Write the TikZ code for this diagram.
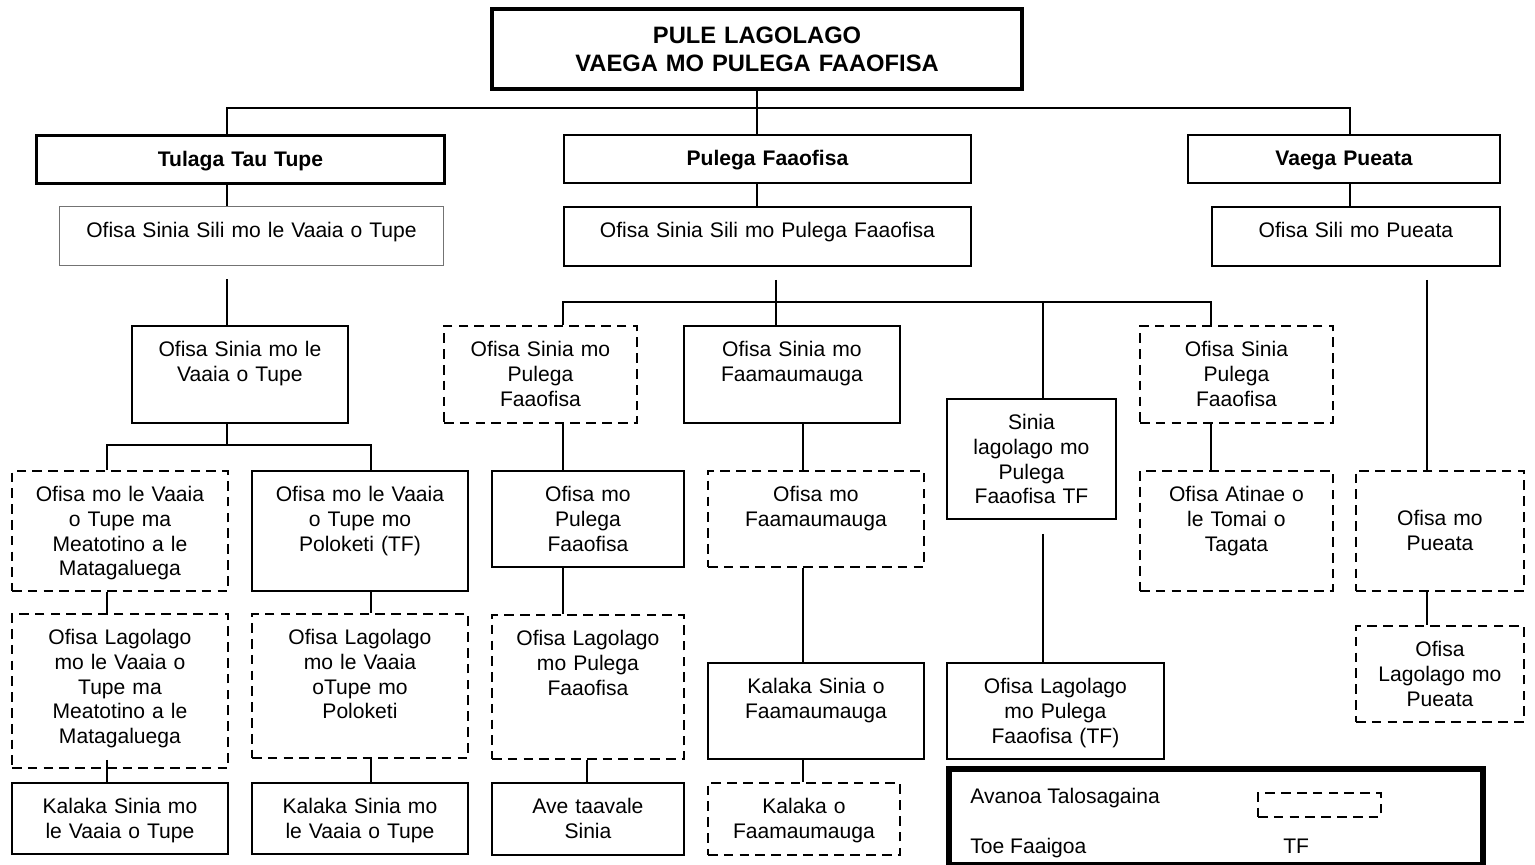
\documentclass[tikz,border=0pt]{standalone}
\usepackage{fontspec}
\setmainfont{Liberation Sans}
\begin{document}
\begin{tikzpicture}[x=0.02cm,y=-0.02cm,
    every node/.style={font=\fontsize{12}{14}\selectfont},
    orgbox/.style 2 args={draw,line width=1.1pt,anchor=north west,inner sep=0pt,align=center,text width=#1,text height=0.62cm,text depth=#2},
    dashbox/.style={dash pattern=on 5.5pt off 3.5pt},
    headbox/.style={line width=1.7pt,font=\fontsize{12}{14}\selectfont\bfseries},
    link/.style={line width=1.1pt}]
    \useasboundingbox (0,0) rectangle (1535,865);

    \node[orgbox={10.6cm}{0.91cm},line width=2.4pt,text height=0.69cm,font=\fontsize{13.5}{15.9}\selectfont\bfseries] (top) at (490,7) {PULE LAGOLAGO\\VAEGA MO PULEGA FAAOFISA};

    \node[orgbox={8.16cm}{0.34cm},headbox] (tt) at (35,134) {Tulaga Tau Tupe};
    \node[orgbox={8.14cm}{0.34cm},headbox,line width=1.1pt] (pf) at (563,134) {Pulega Faaofisa};
    \node[orgbox={6.24cm}{0.34cm},headbox,line width=1.1pt] (vp) at (1187,134) {Vaega Pueata};

    \node[orgbox={7.68cm}{0.56cm},draw=black!55,line width=0.6pt] (ts) at (59,206) {Ofisa Sinia Sili mo le Vaaia o Tupe};
    \node[orgbox={8.14cm}{0.56cm}] (ps) at (563,206) {Ofisa Sinia Sili mo Pulega Faaofisa};
    \node[orgbox={5.76cm}{0.56cm}] (vs) at (1211,206) {Ofisa Sili mo Pueata};

    \node[orgbox={4.32cm}{1.32cm}] (t1) at (131,325) {Ofisa Sinia mo le\\Vaaia o Tupe};
    \node[orgbox={4.32cm}{1.78cm},dashbox] (a1) at (11,470) {Ofisa mo le Vaaia\\o Tupe ma\\Meatotino a le\\Matagaluega};
    \node[orgbox={4.32cm}{1.78cm}] (b1) at (251,470) {Ofisa mo le Vaaia\\o Tupe mo\\Poloketi (TF)};
    \node[orgbox={4.32cm}{2.46cm},dashbox] (a2) at (11,613) {Ofisa Lagolago\\mo le Vaaia o\\Tupe ma\\Meatotino a le\\Matagaluega};
    \node[orgbox={4.32cm}{2.26cm},dashbox] (b2) at (251,613) {Ofisa Lagolago\\mo le Vaaia\\oTupe mo\\Poloketi};
    \node[orgbox={4.32cm}{0.8cm}] (a3) at (11,782) {Kalaka Sinia mo\\le Vaaia o Tupe};
    \node[orgbox={4.32cm}{0.8cm}] (b3) at (251,782) {Kalaka Sinia mo\\le Vaaia o Tupe};

    \node[orgbox={3.86cm}{1.32cm},dashbox] (c0) at (443,325) {Ofisa Sinia mo\\Pulega\\Faaofisa};
    \node[orgbox={3.84cm}{1.3cm}] (c1) at (491,470) {Ofisa mo\\Pulega\\Faaofisa};
    \node[orgbox={3.84cm}{2.26cm},dashbox] (c2) at (491,614) {Ofisa Lagolago\\mo Pulega\\Faaofisa};
    \node[orgbox={3.84cm}{0.82cm}] (c3) at (491,782) {Ave taavale\\Sinia};

    \node[orgbox={4.32cm}{1.32cm}] (d0) at (683,325) {Ofisa Sinia mo\\Faamaumauga};
    \node[orgbox={4.32cm}{1.3cm},dashbox] (d1) at (707,470) {Ofisa mo\\Faamaumauga};
    \node[orgbox={4.32cm}{1.3cm}] (d2) at (707,662) {Kalaka Sinia o\\Faamaumauga};
    \node[orgbox={3.84cm}{0.82cm},dashbox] (d3) at (707,782) {Kalaka o\\Faamaumauga};

    \node[orgbox={3.38cm}{1.78cm}] (e0) at (946,398) {Sinia\\lagolago mo\\Pulega\\Faaofisa TF};
    \node[orgbox={4.34cm}{1.3cm}] (e1) at (946,662) {Ofisa Lagolago\\mo Pulega\\Faaofisa (TF)};

    \node[orgbox={3.86cm}{1.32cm},dashbox] (f0) at (1139,325) {Ofisa Sinia\\Pulega\\Faaofisa};
    \node[orgbox={3.86cm}{1.78cm},dashbox] (f1) at (1139,470) {Ofisa Atinae o\\le Tomai o\\Tagata};

    \node[orgbox={3.36cm}{1.3cm},dashbox,text height=1.1cm] (g1) at (1355,470) {Ofisa mo\\Pueata};
    \node[orgbox={3.36cm}{1.3cm},dashbox] (g2) at (1355,625) {Ofisa\\Lagolago mo\\Pueata};

    \coordinate (bus1) at (227,108);
    \coordinate (bus2) at (1350,108);
    \draw[link] (bus1 |- tt.north) -- (bus1) -- (bus2) -- (bus2 |- vp.north);
    \draw[link] (top.south) -- (top.south |- pf.north);
    \draw[link] (top.south |- pf.south) -- (top.south |- ps.north);
    \draw[link] (bus2 |- vp.south) -- (bus2 |- vs.north);
    \draw[link] (bus1 |- tt.south) -- (bus1 |- ts.north);
    \draw[link,shorten <=0.26cm] (bus1 |- ts.south) -- (bus1 |- t1.north);

    \coordinate (tbl) at (107,445);
    \coordinate (tbr) at (371,445);
    \draw[link] (bus1 |- t1.south) -- (bus1 |- tbl);
    \draw[link] (a1.north -| tbl) -- (tbl) -- (tbr) -- (b1.north -| tbr);
    \draw[link] (a1.south -| tbl) -- (a2.north -| tbl);
    \draw[link,shorten <=-0.18cm] (a2.south -| tbl) -- (a3.north -| tbl);
    \draw[link] (b1.south -| tbr) -- (b2.north -| tbr);
    \draw[link] (b2.south -| tbr) -- (b3.north -| tbr);

    \coordinate (pbl) at (563,302);
    \coordinate (pbm) at (776,302);
    \coordinate (pbr) at (1211,302);
    \coordinate (xc) at (587,0);
    \coordinate (xd) at (803,0);
    \coordinate (xe) at (1043,0);
    \coordinate (xg) at (1427,0);
    \draw[link,shorten <=0.26cm] (ps.south -| pbm) -- (d0.north -| pbm);
    \draw[link] (c0.north -| pbl) -- (pbl) -- (pbr) -- (f0.north -| pbr);
    \draw[link] (xe |- pbl) -- (xe |- e0.north);
    \draw[link] (c0.south -| pbl) -- (c1.north -| pbl);
    \draw[link] (c1.south -| pbl) -- (c2.north -| pbl);
    \draw[link] (c2.south -| xc) -- (c3.north -| xc);
    \draw[link] (d0.south -| xd) -- (d1.north -| xd);
    \draw[link] (d1.south -| xd) -- (d2.north -| xd);
    \draw[link] (d2.south -| xd) -- (d3.north -| xd);
    \draw[link,shorten <=0.28cm] (e0.south -| xe) -- (e1.north -| xe);
    \draw[link] (f0.south -| pbr) -- (f1.north -| pbr);
    \draw[link,shorten <=0.26cm] (vs.south -| xg) -- (g1.north -| xg);
    \draw[link] (g1.south -| xg) -- (g2.north -| xg);

    \node[anchor=base west,inner sep=0pt] (lgavanoa) at (970,803) {Avanoa Talosagaina};
    \node[draw,dashbox,line width=1.1pt,anchor=north west,minimum width=2.46cm,minimum height=0.48cm,inner sep=0pt] (lgdash) at (1257,792) {};
    \node[anchor=base west,inner sep=0pt] (lgtoe) at (970,853) {Toe Faaigoa};
    \node[anchor=base west,inner sep=0pt] (lgtf) at (1283,853) {TF};
    \node[draw,line width=3.4pt,anchor=north west,minimum width=10.68cm,minimum height=1.92cm,inner sep=0pt] (legend) at (946,766) {};
\end{tikzpicture}
\end{document}
